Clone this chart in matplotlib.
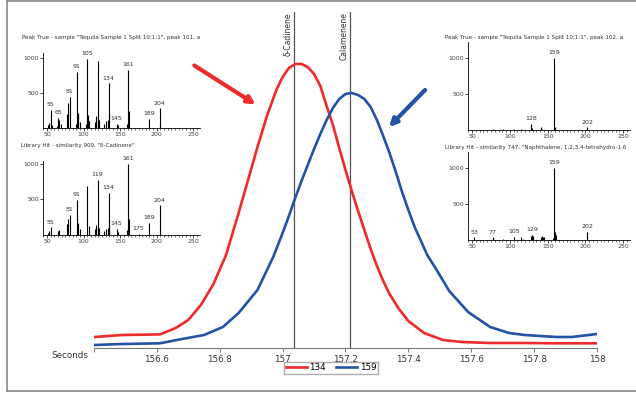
import matplotlib
matplotlib.use("Agg")
import matplotlib.pyplot as plt
from matplotlib.ticker import MultipleLocator, FixedLocator
from matplotlib.lines import Line2D

# ---- main chromatogram (ion traces) ----
t_134 = [156.40, 156.49, 156.61, 156.66, 156.70, 156.74, 156.78, 156.82, 156.86, 156.89,
         156.92, 156.95, 156.98, 157.00, 157.02, 157.04, 157.06, 157.08, 157.10, 157.12,
         157.14, 157.16, 157.18, 157.20, 157.22, 157.24, 157.26, 157.28, 157.30, 157.32,
         157.34, 157.37, 157.40, 157.45, 157.51, 157.57, 157.66, 157.77, 157.87, 158.00]
i_134 = [11, 13, 13.6, 20, 28, 43, 64, 93, 135, 168,
         201, 232, 258, 271, 280, 284, 284, 281, 274, 262,
         242, 223, 200, 178, 157, 137, 118, 99, 82, 67,
         54, 39, 27, 15, 8, 6, 5, 5, 4.7, 4.7]
t_159 = [156.40, 156.49, 156.61, 156.68, 156.75, 156.81, 156.86, 156.92, 156.97, 157.00,
         157.02, 157.04, 157.06, 157.08, 157.10, 157.12, 157.14, 157.16, 157.18, 157.20,
         157.22, 157.24, 157.26, 157.28, 157.30, 157.32, 157.34, 157.36, 157.38, 157.40,
         157.42, 157.44, 157.46, 157.49, 157.53, 157.59, 157.66, 157.72, 157.77, 157.87,
         157.92, 158.00]
i_159 = [3, 4, 4.7, 9, 13, 21, 35, 58, 91, 115,
         132, 150, 167, 183, 199, 214, 228, 240, 249, 254,
         255, 253, 249, 241, 228, 212, 195, 176, 156, 138,
         121, 107, 93, 78, 57, 36, 21, 15, 13, 11,
         11, 14]
x_ticks = [156.4, 156.6, 156.8, 157.0, 157.2, 157.4, 157.6, 157.8, 158.0]
x_tick_labels = ["", "156.6", "156.8", "157", "157.2", "157.4", "157.6", "157.8", "158"]
peak_marks = [157.035, 157.215]
peak_names = ["\u03b4-Cadinene", "Calamenene"]

# ---- mass spectra insets ----
ms1_title = 'Peak True - sample "Tequila Sample 1 Split 10:1:1", peak 101, a'
ms1_mz = [51, 53, 55, 57, 63, 65, 67, 69, 77, 79, 81, 82, 89, 91, 92, 93, 95, 103, 105, 106,
          107, 115, 117, 119, 120, 121, 128, 131, 133, 134, 135, 145, 147, 159, 161, 162,
          189, 204, 205]
ms1_int = [40, 70, 260, 50, 30, 140, 110, 60, 200, 360, 450, 60, 60, 800, 220, 200, 80, 60, 990, 180,
           100, 80, 170, 965, 150, 110, 60, 100, 120, 640, 220, 55, 40, 60, 835, 240,
           130, 280, 60]
ms1_lab = [55, 65, 81, 91, 105, 134, 145, 161, 189, 204]

ms2_title = 'Library Hit - similarity 909, "\u03b4-Cadinene"'
ms2_mz = [51, 53, 55, 65, 67, 77, 79, 81, 91, 93, 95, 105, 107, 115, 117, 119, 120, 121, 128,
          131, 133, 134, 135, 145, 147, 159, 161, 162, 175, 189, 204, 205]
ms2_int = [30, 60, 108, 50, 70, 150, 230, 283, 495, 170, 80, 684, 120, 90, 140, 778, 130, 100, 60,
           90, 100, 590, 210, 85, 40, 70, 1000, 230, 15, 165, 415, 60]
ms2_lab = [55, 81, 91, 119, 134, 145, 161, 175, 189, 204]

ms3_title = 'Peak True - sample "Tequila Sample 1 Split 10:1:1", peak 102, a'
ms3_mz = [77, 91, 105, 115, 128, 129, 141, 143, 158, 159, 160, 202]
ms3_int = [8, 10, 12, 15, 80, 30, 37, 20, 25, 1000, 40, 37]
ms3_lab = [128, 159, 202]

# title is truncated at the picture edge in the original
ms4_title = 'Library Hit - similarity 747, "Naphthalene, 1,2,3,4-tetrahydro-1,6'
ms4_mz = [53, 77, 91, 105, 115, 117, 128, 129, 131, 141, 143, 144, 145, 157, 158, 159, 160, 161, 202]
ms4_int = [37, 37, 20, 46, 35, 20, 60, 69, 55, 40, 55, 45, 35, 25, 30, 1000, 110, 70, 115]
ms4_lab = [53, 77, 105, 129, 159, 202]

RED = "#ee2a2a"
BLUE = "#2352a6"
W, H = 636, 393

fig = plt.figure(figsize=(W / 100, H / 100), dpi=100)


def fr(x0, y0, x1, y1):
    """pixel box (top-left origin) -> figure fraction [l, b, w, h]"""
    return [x0 / W, 1 - y1 / H, (x1 - x0) / W, (y1 - y0) / H]


ax = fig.add_axes(fr(94, 12, 597, 348))
ax.plot(t_134, i_134, color=RED, lw=1.9, zorder=3, solid_joinstyle="round")
ax.plot(t_159, i_159, color=BLUE, lw=1.9, zorder=3, solid_joinstyle="round")
ax.set_xlim(156.4, 158.0)
ax.set_ylim(0, 336)
for s in ["left", "right", "top"]:
    ax.spines[s].set_visible(False)
ax.spines["bottom"].set_color("#777777")
ax.spines["bottom"].set_linewidth(0.8)
ax.set_yticks([])
ax.xaxis.set_major_locator(FixedLocator(x_ticks))
ax.set_xticklabels(x_tick_labels)
ax.tick_params(axis="x", labelsize=6.3, length=3, width=0.7, color="#777777", pad=2, labelcolor="#333333")
ax.patch.set_alpha(0)
for xm, nm in zip(peak_marks, peak_names):
    ax.axvline(xm, color="#555555", lw=0.9, zorder=2)
    ax.text(xm - 0.004, 336, nm, rotation=90, ha="right", va="top", fontsize=5.5, color="#333333")
fig.text(88 / W, 1 - 356 / H, "Seconds", ha="right", va="center", fontsize=6.3, color="#333333")

fig.legend(handles=[Line2D([], [], color=RED, lw=1.9), Line2D([], [], color=BLUE, lw=1.9)],
           labels=["134", "159"], loc="upper center", bbox_to_anchor=(331 / W, 1 - 362 / H),
           ncol=2, fontsize=6.3, frameon=True, fancybox=False, edgecolor="#999999",
           borderpad=0.15, handlelength=2.4, handletextpad=0.3, columnspacing=1.2, borderaxespad=0)


def spectrum(box, mz, inten, labels, title, ytop, tx, ty):
    a = fig.add_axes(fr(*box))
    a.vlines(mz, 0, inten, color="black", lw=0.8)
    a.set_xlim(44.5, 259)
    a.set_ylim(0, ytop)
    for s in ["right", "top"]:
        a.spines[s].set_visible(False)
    for s in ["left", "bottom"]:
        a.spines[s].set_linewidth(0.6)
    a.set_xticks([50, 100, 150, 200, 250])
    a.xaxis.set_minor_locator(MultipleLocator(5))
    a.set_yticks([500, 1000])
    a.tick_params(labelsize=4.5, length=2, width=0.5, pad=1, labelcolor="#444444")
    a.tick_params(which="minor", length=1.2, width=0.4)
    a.patch.set_alpha(0)
    for m in labels:
        v = inten[mz.index(m)]
        a.annotate(str(m), (m, v), xytext=(0, 2), textcoords="offset points",
                   ha="center", va="bottom", fontsize=4.5, color="#333333")
    fig.text(tx / W, 1 - ty / H, title, ha="left", va="center", fontsize=4.1, color="#333333")
    return a


spectrum((43, 53, 200, 128), ms1_mz, ms1_int, ms1_lab, ms1_title, 1075, 22, 38)
spectrum((43, 161, 200, 235), ms2_mz, ms2_int, ms2_lab, ms2_title, 1040, 21, 145)
spectrum((468, 42, 630, 130), ms3_mz, ms3_int, ms3_lab, ms3_title, 1220, 445, 38)
spectrum((468, 152, 630, 240), ms4_mz, ms4_int, ms4_lab, ms4_title, 1220, 445, 148)

# pointer arrows
ax.annotate("", xy=(258, H - 106), xytext=(192, H - 64), xycoords="figure pixels",
            textcoords="figure pixels",
            arrowprops=dict(arrowstyle="-|>", lw=3, color=RED, mutation_scale=11))
ax.annotate("", xy=(387, H - 129), xytext=(427, H - 88), xycoords="figure pixels",
            textcoords="figure pixels",
            arrowprops=dict(arrowstyle="-|>", lw=3, color=BLUE, mutation_scale=11))

# outer frame
for xs, ys in [([7, 7], [1, 391]), ([7, W], [1, 1]), ([7, W], [391, 391])]:
    fig.add_artist(Line2D([x / W for x in xs], [1 - y / H for y in ys], color="#888888", lw=1.2))

fig.savefig("out.png", dpi=100)
